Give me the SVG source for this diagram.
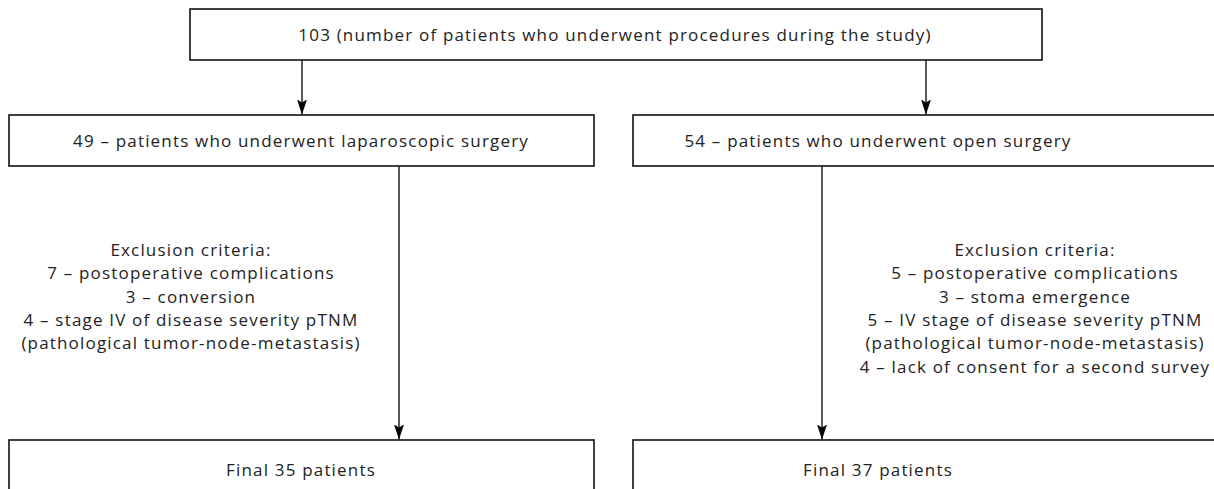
<svg xmlns="http://www.w3.org/2000/svg" width="1214" height="489" viewBox="0 0 1214 489">
<defs>
<marker id="arr" markerWidth="15" markerHeight="10" refX="15" refY="5" orient="auto" markerUnits="userSpaceOnUse" viewBox="0 0 15 10">
<path d="M0,0 L15,5 L0,10 L3,5 Z" fill="#000"/>
</marker>
<style>
.box{fill:#fff;stroke:#111;stroke-width:1.6}
.t{font-family:"Open Sans","Noto Sans","DejaVu Sans",sans-serif;font-size:17px;letter-spacing:1.18px;fill:#222;text-anchor:middle}
.c{stroke:#222;stroke-width:1.5;fill:none}
</style>
</defs>
<rect width="1214" height="489" fill="#fff"/>
<g id="n-top"><rect class="box" x="190" y="9" width="852" height="51"/><text class="t" x="615" y="41">103 (number of patients who underwent procedures during the study)</text></g>
<g id="n-lap"><rect class="box" x="9" y="115" width="585" height="51"/><text class="t" x="301" y="147">49 – patients who underwent laparoscopic surgery</text></g>
<g id="n-open"><rect class="box" x="633" y="115" width="600" height="51"/><text class="t" x="878" y="147">54 – patients who underwent open surgery</text></g>
<g id="n-excl-left"><text class="t"><tspan x="191" y="256">Exclusion criteria:</tspan><tspan x="191" y="279.3">7 – postoperative complications</tspan><tspan x="191" y="302.6">3 – conversion</tspan><tspan x="191" y="325.9">4 – stage IV of disease severity pTNM</tspan><tspan x="191" y="349.2">(pathological tumor-node-metastasis)</tspan></text></g>
<g id="n-excl-right"><text class="t"><tspan x="1035" y="256">Exclusion criteria:</tspan><tspan x="1035" y="279.3">5 – postoperative complications</tspan><tspan x="1035" y="302.6">3 – stoma emergence</tspan><tspan x="1035" y="325.9">5 – IV stage of disease severity pTNM</tspan><tspan x="1035" y="349.2">(pathological tumor-node-metastasis)</tspan><tspan x="1035" y="372.5">4 – lack of consent for a second survey</tspan></text></g>
<g id="n-final-left"><rect class="box" x="9" y="440" width="585" height="60"/><text class="t" x="301" y="476">Final 35 patients</text></g>
<g id="n-final-right"><rect class="box" x="633" y="440" width="600" height="60"/><text class="t" x="878" y="476">Final 37 patients</text></g>
<g id="connectors">
<line class="c" x1="302" y1="60" x2="302" y2="114.5" marker-end="url(#arr)"/>
<line class="c" x1="926" y1="60" x2="926" y2="114.5" marker-end="url(#arr)"/>
<line class="c" x1="399" y1="166" x2="399" y2="439.5" marker-end="url(#arr)"/>
<line class="c" x1="822" y1="166" x2="822" y2="439.5" marker-end="url(#arr)"/>
</g>
</svg>
